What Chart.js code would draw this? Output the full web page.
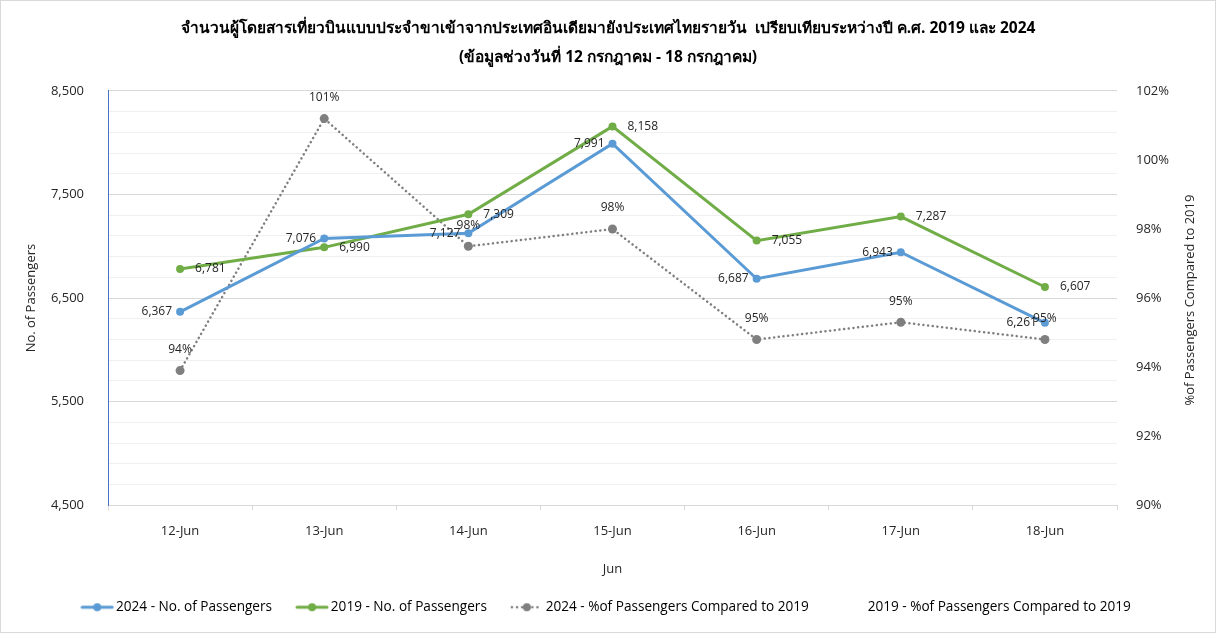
<!DOCTYPE html>
<html>
<head>
<meta charset="utf-8">
<script src="https://cdn.jsdelivr.net/npm/chart.js@4"></script>
<style>
  html, body { margin: 0; padding: 0; background: #fff; }
  .wrap { width: 1216px; height: 633px; box-sizing: border-box; border: 1px solid #d9d9d9; position: relative; }
  canvas { display: block; }
</style>
</head>
<body>
<div class="wrap"><canvas id="paxChart" width="1214" height="631"></canvas></div>
<script>
// Data
const days = ['12-Jun', '13-Jun', '14-Jun', '15-Jun', '16-Jun', '17-Jun', '18-Jun'];
const pax2024 = [6367, 7076, 7127, 7991, 6687, 6943, 6261];
const pax2019 = [6781, 6990, 7309, 8158, 7055, 7287, 6607];
const pct2024 = [93.9, 101.2, 97.5, 98.0, 94.8, 95.3, 94.8];
const pct2019 = [];

const titleLines = [
    'จำนวนผู้โดยสารเที่ยวบินแบบประจำขาเข้าจากประเทศอินเดียมายังประเทศไทยรายวัน  เปรียบเทียบระหว่างปี ค.ศ. 2019 และ 2024',
    '(ข้อมูลช่วงวันที่ 12 กรกฎาคม - 18 กรกฎาคม)'
];
const rightTitle = '%of Passengers Compared to 2019';

const FONT = "'Open Sans', 'Noto Sans', sans-serif";
const BLUE = '#5b9bd5';
const GREEN = '#70ad47';
const GREY = '#7f7f7f';

// small canvases used as legend markers (line with a dot)
function legendMarker(color, dotted) {
    const c = document.createElement('canvas');
    c.width = 34; c.height = 12;
    const g = c.getContext('2d');
    if (color) {
        g.strokeStyle = color;
        g.fillStyle = color;
        g.lineWidth = dotted ? 2.5 : 3;
        g.lineCap = 'round';
        if (dotted) g.setLineDash([0.1, 5]);
        g.beginPath();
        g.moveTo(2, 6); g.lineTo(32, 6);
        g.stroke();
        g.beginPath();
        g.arc(17, 6, 4, 0, Math.PI * 2);
        g.fill();
    }
    return c;
}
const markers = [legendMarker(BLUE), legendMarker(GREEN), legendMarker(GREY, true), legendMarker(null)];

// value labels next to the points + right axis title (reads bottom to top)
const pointLabels = {
    id: 'pointLabels',
    afterDatasetsDraw(chart) {
        const ctx = chart.ctx;
        ctx.save();
        ctx.font = '12px ' + FONT;
        ctx.fillStyle = '#262626';
        ctx.textBaseline = 'middle';
        chart.data.datasets.forEach((ds, i) => {
            const meta = chart.getDatasetMeta(i);
            meta.data.forEach((pt, j) => {
                const v = ds.data[j];
                if (ds.labelPos === 'left') {
                    ctx.textAlign = 'right';
                    ctx.fillText(v.toLocaleString('en-US'), pt.x - 8, pt.y);
                } else if (ds.labelPos === 'right') {
                    ctx.textAlign = 'left';
                    ctx.fillText(v.toLocaleString('en-US'), pt.x + 15, pt.y);
                } else if (ds.labelPos === 'top') {
                    ctx.textAlign = 'center';
                    ctx.fillText(Math.round(v) + '%', pt.x, pt.y - 21);
                }
            });
        });
        const area = chart.chartArea;
        ctx.font = '13px ' + FONT;
        ctx.textAlign = 'center';
        ctx.translate(chart.scales.y1.right - 15, (area.top + area.bottom) / 2 + 2);
        ctx.rotate(-Math.PI / 2);
        ctx.fillText(rightTitle, 0, 0);
        ctx.restore();
    }
};

const ctx = document.getElementById('paxChart').getContext('2d');
new Chart(ctx, {
    type: 'line',
    data: {
        labels: days,
        datasets: [
            {
                label: '2024 - No. of Passengers',
                data: pax2024,
                yAxisID: 'y',
                borderColor: BLUE,
                backgroundColor: BLUE,
                borderWidth: 3,
                pointRadius: 4,
                pointBorderWidth: 0,
                labelPos: 'left'
            },
            {
                label: '2019 - No. of Passengers',
                data: pax2019,
                yAxisID: 'y',
                borderColor: GREEN,
                backgroundColor: GREEN,
                borderWidth: 3,
                pointRadius: 4,
                pointBorderWidth: 0,
                labelPos: 'right'
            },
            {
                label: '2024 - %of Passengers Compared to 2019',
                data: pct2024,
                yAxisID: 'y1',
                borderColor: GREY,
                backgroundColor: GREY,
                borderWidth: 2.5,
                borderDash: [0.1, 4.6],
                borderCapStyle: 'round',
                pointRadius: 4.5,
                pointBorderWidth: 0,
                labelPos: 'top'
            },
            {
                label: '2019 - %of Passengers Compared to 2019',
                data: pct2019,
                yAxisID: 'y1',
                borderColor: 'rgba(0,0,0,0)',
                backgroundColor: 'rgba(0,0,0,0)',
                pointRadius: 0
            }
        ]
    },
    options: {
        responsive: false,
        animation: false,
        layout: { padding: { left: 10, right: 10, top: 0, bottom: 8 } },
        plugins: {
            title: {
                display: true,
                text: titleLines,
                color: '#000',
                font: { family: FONT, size: 15.5, weight: 'bold', lineHeight: 1.87 },
                padding: { top: 13, bottom: 19 }
            },
            legend: {
                position: 'bottom',
                labels: {
                    usePointStyle: true,
                    pointStyleWidth: 24,
                    color: '#000',
                    font: { family: FONT, size: 13.6 },
                    padding: 28,
                    generateLabels(chart) {
                        const items = Chart.defaults.plugins.legend.labels.generateLabels(chart);
                        items.forEach((it, k) => { it.pointStyle = markers[k]; });
                        return items;
                    }
                }
            },
            tooltip: { enabled: false }
        },
        scales: {
            x: {
                offset: true,
                grid: {
                    offset: true,
                    drawOnChartArea: false,
                    color: '#d9d9d9',
                    tickLength: 5
                },
                border: { color: '#d9d9d9' },
                ticks: { color: '#262626', font: { family: FONT, size: 13 }, padding: 13 },
                title: {
                    display: true,
                    text: 'Jun',
                    color: '#262626',
                    font: { family: FONT, size: 13 },
                    padding: { top: 14, bottom: -5 }
                },
                afterFit(scale) { scale.height -= 4; }
            },
            y: {
                position: 'left',
                min: 4500,
                max: 8500,
                ticks: {
                    stepSize: 200,
                    autoSkip: false,
                    color: '#262626',
                    font: { family: FONT, size: 13 },
                    padding: 24,
                    callback: (v) => ((v - 4500) % 1000 === 0 ? v.toLocaleString('en-US') : '')
                },
                grid: {
                    drawTicks: false,
                    color: (c) => ((c.tick.value - 4500) % 1000 === 0 ? '#d9d9d9' : '#f0f0f0')
                },
                border: { color: '#4472c4', width: 1 },
                title: {
                    display: true,
                    text: 'No. of Passengers',
                    color: '#262626',
                    font: { family: FONT, size: 13 },
                    padding: { top: 12, bottom: 0 }
                },
                afterFit(scale) { scale.width = 97; }
            },
            y1: {
                position: 'right',
                min: 90,
                max: 102,
                ticks: {
                    stepSize: 2,
                    color: '#262626',
                    font: { family: FONT, size: 13 },
                    padding: 19,
                    callback: (v) => v + '%'
                },
                grid: { display: false, drawTicks: false },
                border: { display: false },
                afterFit(scale) { scale.width = 88; }
            }
        }
    },
    plugins: [pointLabels]
});
</script>
</body>
</html>
